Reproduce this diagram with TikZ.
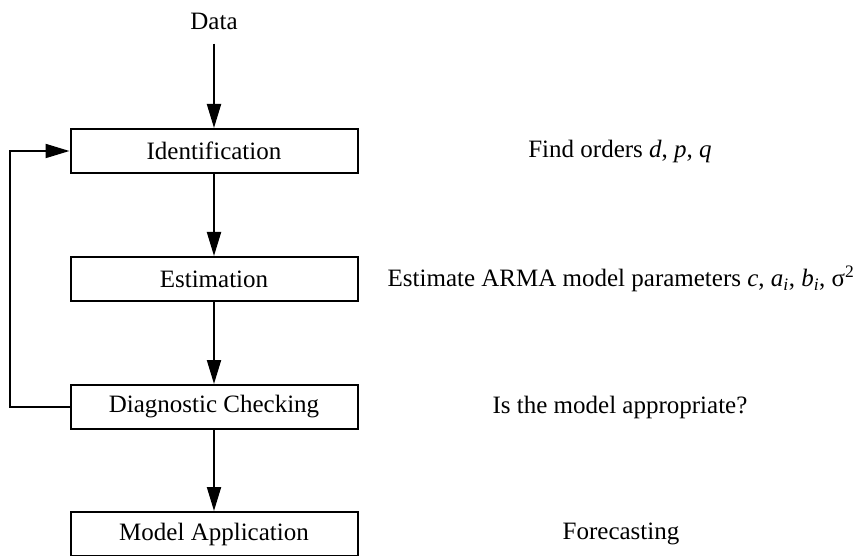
\documentclass[tikz,border=0pt]{standalone}
\usepackage{fontspec}
\setmainfont{Liberation Serif}
\usetikzlibrary{arrows.meta}
\begin{document}
\begin{tikzpicture}[x=1pt,y=1pt,
  font=\fontsize{25}{30}\selectfont,
  stage/.style={draw,line width=2pt,minimum width=287pt,minimum height=44pt,inner sep=0pt},
  note/.style={inner sep=0pt},
  arr/.style={line width=2pt,-{Triangle[length=24pt,width=14pt]}}]
\useasboundingbox (0,0) rectangle (865,-556);
\node[note] (data) at (214,-21) {Data};
\node[stage] (ident) at (214,-151) {Identification};
\node[stage] (est) at (214,-279) {Estimation};
\node[stage] (diag) at (214,-407) {Diagnostic Checking};
\node[stage] (app) at (214,-534) {Model Application};
\node[note] (t1) at (620,-151) {Find orders \textit{d}, \textit{p}, \textit{q}};
\node[note] (t2) at (621,-279) {Estimate ARMA model parameters \textit{c}, \textit{a}\textsubscript{\textit{i}}, \textit{b}\textsubscript{\textit{i}}, σ\textsuperscript{2}};
\node[note] (t3) at (620,-407) {Is the model appropriate?};
\node[note] (t4) at (621,-534) {Forecasting};
\draw[arr] ([yshift=-14pt]data.south) -- (ident.north);
\draw[arr] (ident) -- (est);
\draw[arr] (est) -- (diag);
\draw[arr] (diag) -- (app);
\draw[arr] (diag.west) -- ++(-60,0) |- (ident.west);
\end{tikzpicture}
\end{document}
